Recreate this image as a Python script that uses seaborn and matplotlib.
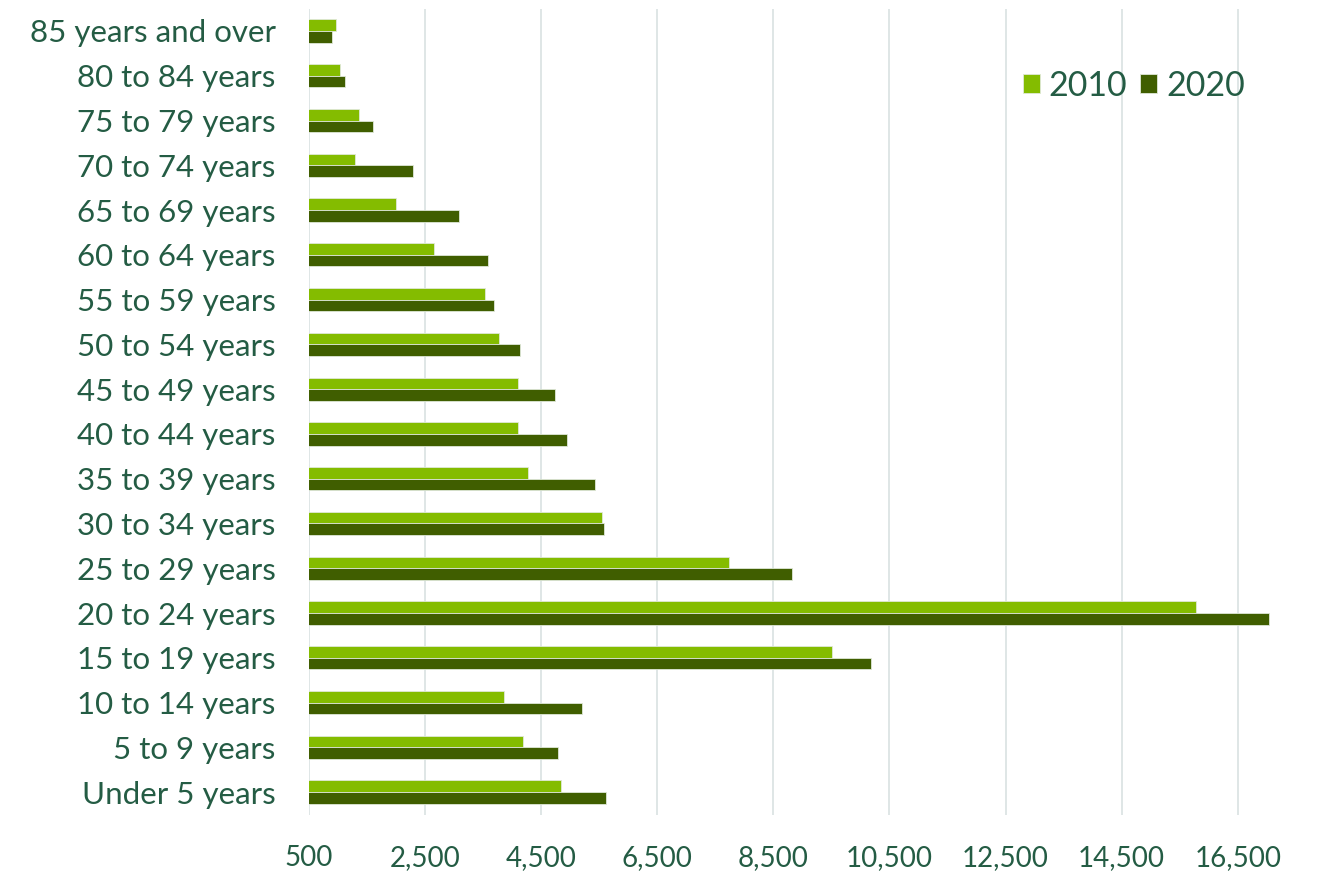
import matplotlib
matplotlib.use("Agg")
import matplotlib.pyplot as plt
import seaborn as sns
import pandas as pd

age_groups = [
    "85 years and over", "80 to 84 years", "75 to 79 years", "70 to 74 years",
    "65 to 69 years", "60 to 64 years", "55 to 59 years", "50 to 54 years",
    "45 to 49 years", "40 to 44 years", "35 to 39 years", "30 to 34 years",
    "25 to 29 years", "20 to 24 years", "15 to 19 years", "10 to 14 years",
    "5 to 9 years", "Under 5 years",
]
pop_2010 = [965, 1040, 1367, 1293, 2005, 2660, 3540, 3781, 4109, 4109,
            4271, 5553, 7728, 15781, 9507, 3867, 4181, 4833]
pop_2020 = [902, 1121, 1598, 2298, 3086, 3581, 3695, 4133, 4741, 4943,
            5431, 5590, 8814, 17040, 10179, 5197, 4783, 5612]
years = ["2010", "2020"]
x_ticks = [500, 2500, 4500, 6500, 8500, 10500, 12500, 14500, 16500]

df = pd.DataFrame({
    "Age": age_groups * 2,
    "Population": pop_2010 + pop_2020,
    "Year": [years[0]] * len(age_groups) + [years[1]] * len(age_groups),
})

sns.set_theme(style="white")
plt.rcParams["font.family"] = ["Lato", "DejaVu Sans"]
text_color = "#245c44"

fig = plt.figure(figsize=(13.23, 8.74), dpi=100)
ax = fig.add_axes([309 / 1323, 1 - 814.5 / 874, (1290 - 309) / 1323, (814.5 - 8.6) / 874])

sns.barplot(
    data=df, y="Age", x="Population", hue="Year", order=age_groups,
    hue_order=years, palette=["#84bc00", "#405e00"], saturation=1,
    orient="h", width=0.52, edgecolor="#dfe8d8", linewidth=0.6, ax=ax,
)

ax.set_xlim(500, 17400)
ax.set_xticks(x_ticks)
ax.set_xticklabels([f"{v:,}" for v in x_ticks])
ax.grid(axis="x", color="#d9e2e2", linewidth=1.2)
ax.set_axisbelow(True)
for s in ax.spines.values():
    s.set_visible(False)
ax.set_xlabel("")
ax.set_ylabel("")
ax.tick_params(axis="x", length=0, pad=22, labelsize=20, colors=text_color)
ax.tick_params(axis="y", length=0, pad=24, labelsize=22.5, colors=text_color)

leg = ax.legend(
    loc="upper right", bbox_to_anchor=(0.985, 0.962), ncol=2, frameon=False,
    fontsize=24.5, handlelength=0.5, handleheight=0.5, handletextpad=0.25,
    columnspacing=0.4, labelcolor=text_color,
)

fig.savefig("out.png", dpi=100)
